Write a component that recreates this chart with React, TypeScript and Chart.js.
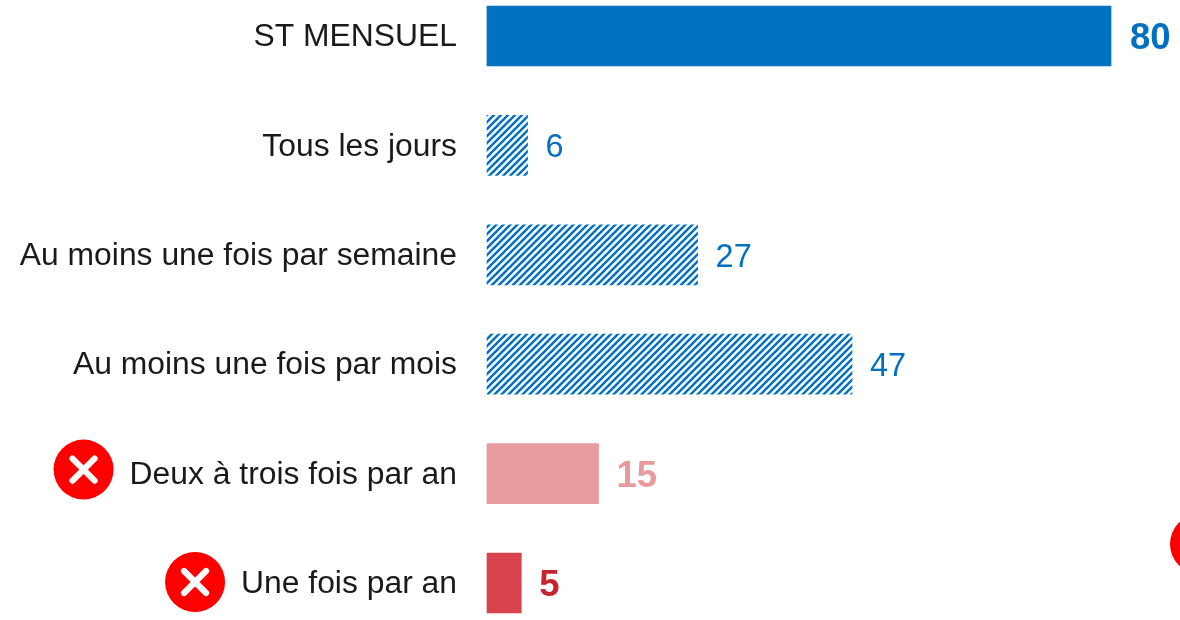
import React, { useEffect, useRef } from "react";
import { Chart, registerables } from "chart.js";

Chart.register(...registerables);

const categories = [
  "ST MENSUEL",
  "Tous les jours",
  "Au moins une fois par semaine",
  "Au moins une fois par mois",
  "Deux à trois fois par an",
  "Une fois par an",
];
const barValues = [80, 5.2, 27, 46.8, 14.3, 4.4];
const valueLabels = ["80", "6", "27", "47", "15", "5"];
const labelColors = ["#0070C0", "#0070C0", "#0070C0", "#0070C0", "#E99A9E", "#C8242F"];
const labelBold = [true, false, false, false, true, true];
const iconRows = [4, 5];
const iconRowShift = [-4, -1];

const FONT = '"Liberation Sans", Arial, sans-serif';

function hatch(): CanvasPattern {
  const size = 7;
  const c = document.createElement("canvas");
  c.width = size;
  c.height = size;
  const g = c.getContext("2d")!;
  g.fillStyle = "#ffffff";
  g.fillRect(0, 0, size, size);
  g.strokeStyle = "#0070C0";
  g.lineWidth = 2.4;
  for (const o of [-size, 0, size]) {
    g.beginPath();
    g.moveTo(o - 1, size + 1);
    g.lineTo(o + size + 1, -1);
    g.stroke();
  }
  return g.createPattern(c, "repeat")!;
}

function drawIcon(ctx: CanvasRenderingContext2D, cx: number, cy: number) {
  ctx.save();
  ctx.fillStyle = "#FF0000";
  ctx.beginPath();
  ctx.arc(cx, cy, 30, 0, Math.PI * 2);
  ctx.fill();
  ctx.strokeStyle = "#ffffff";
  ctx.lineWidth = 6.2;
  ctx.lineCap = "round";
  ctx.beginPath();
  ctx.moveTo(cx - 11, cy - 11);
  ctx.lineTo(cx + 11, cy + 11);
  ctx.moveTo(cx + 11, cy - 11);
  ctx.lineTo(cx - 11, cy + 11);
  ctx.stroke();
  ctx.restore();
}

const overlay = {
  id: "overlay",
  afterDraw(chart: any) {
    const ctx: CanvasRenderingContext2D = chart.ctx;
    const meta = chart.getDatasetMeta(0);
    ctx.save();
    ctx.textBaseline = "middle";
    ctx.textAlign = "left";
    meta.data.forEach((bar: any, i: number) => {
      ctx.font = `${labelBold[i] ? "bold 36.5px" : "32.5px"} ${FONT}`;
      ctx.fillStyle = labelColors[i];
      ctx.fillText(valueLabels[i], bar.x + (i === 0 ? 19 : 18), bar.y + 3);
    });
    ctx.font = `31.85px ${FONT}`;
    iconRows.forEach((row, k) => {
      const w = ctx.measureText(categories[row]).width;
      const y = chart.scales.y.getPixelForTick(row) + iconRowShift[k];
      drawIcon(ctx, chart.scales.y.right - 30 - w - 46, y);
    });
    ctx.restore();
    drawIcon(ctx, 1200, 544);
  },
};

export default function App() {
  const ref = useRef<HTMLCanvasElement>(null);
  useEffect(() => {
    const pattern = hatch();
    const chart = new Chart(ref.current!, {
      type: "bar",
      data: {
        labels: categories,
        datasets: [
          {
            data: barValues,
            backgroundColor: ["#0070C0", pattern, pattern, pattern, "#E99A9E", "#D9434E"],
            barThickness: 60,
            clip: false,
          } as any,
        ],
      },
      options: {
        indexAxis: "y",
        responsive: false,
        animation: false,
        layout: { padding: { top: 36, bottom: 37, left: 0, right: 0 } },
        plugins: { legend: { display: false }, tooltip: { enabled: false } },
        scales: {
          x: { display: false, min: 0, max: 88.846 },
          y: {
            offset: false,
            grid: { display: false, drawTicks: false },
            border: { display: false },
            afterFit(scale: any) {
              scale.width = 487;
              scale.paddingTop = 0;
              scale.paddingBottom = 0;
            },
            ticks: {
              color: "#1a1a1a",
              padding: 30,
              autoSkip: false,
              labelOffset: 1.5,
              font: { family: FONT, size: 31.85 },
            },
          },
        },
      },
      plugins: [overlay],
    });
    return () => chart.destroy();
  }, []);
  return (
    <div style={{ position: "absolute", left: 0, top: 0, width: 1180, height: 620, overflow: "hidden", background: "#fff" }}>
      <canvas ref={ref} width={1180} height={620} style={{ display: "block" }} />
    </div>
  );
}
